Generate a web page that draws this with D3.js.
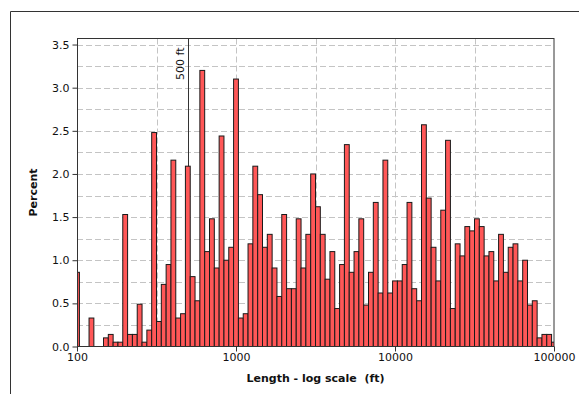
<!DOCTYPE html>
<html>
<head>
<meta charset="utf-8">
<script src="https://cdn.jsdelivr.net/npm/d3@7"></script>
<style>
  html, body { margin: 0; padding: 0; background: #fff; }
  svg { display: block; }
  text { font-family: "DejaVu Sans", Verdana, sans-serif; fill: #111; }
</style>
</head>
<body>
<svg id="chart" width="581" height="394"></svg>
<script>
// Histogram of lengths, binned evenly in log10(length) from 10^2 to 10^5.
// 100 bins; bin k is centred on 10^(2 + k * 3/99).
const percent = [
  0.86, 0, 0, 0.33, 0, 0, 0.10, 0.14, 0.05, 0.05,
  1.53, 0.14, 0.14, 0.49, 0.05, 0.19, 2.48, 0.29, 0.72, 0.95,
  2.16, 0.33, 0.38, 2.09, 0.81, 0.53, 3.20, 1.10, 1.48, 0.91,
  2.44, 1.00, 1.15, 3.10, 0.33, 0.38, 1.19, 2.09, 1.76, 1.15,
  1.30, 0.91, 0.58, 1.53, 0.67, 0.67, 1.48, 0.91, 1.30, 2.00,
  1.62, 1.30, 0.78, 1.10, 0.44, 0.95, 2.34, 0.86, 1.10, 1.48,
  0.48, 0.86, 1.67, 0.62, 2.16, 0.62, 0.76, 0.76, 0.95, 1.67,
  0.67, 0.53, 2.57, 1.72, 1.15, 0.76, 1.58, 2.39, 0.44, 1.19,
  1.05, 1.39, 1.34, 1.48, 1.39, 1.05, 1.10, 0.76, 1.30, 0.86,
  1.15, 1.19, 0.76, 1.00, 0.48, 0.53, 0.10, 0.14, 0.14, 0.05
];
const logFirstCenter = 2;
const logLastCenter = 5;

const xTicks = [100, 1000, 10000, 100000];
const xTickLabels = ["100", "1000", "10000", "100000"];
const xGrid = [316.23, 1000, 3162.3, 10000, 31623];
const yTicks = [0, 0.5, 1, 1.5, 2, 2.5, 3, 3.5];
const yTickLabels = ["0.0", "0.5", "1.0", "1.5", "2.0", "2.5", "3.0", "3.5"];
const yGrid = [0.25, 0.5, 0.75, 1, 1.25, 1.5, 1.75, 2, 2.25, 2.5, 2.75, 3, 3.25, 3.5];
const yMax = 3.57;
const refLine = { value: 500, label: "500 ft" };
const xTitle = "Length - log scale  (ft)";
const yTitle = "Percent";

const plot = { left: 77, right: 554, top: 38.5, bottom: 346.5 };

const svg = d3.select("#chart");

// outer frame
svg.append("path")
  .attr("d", "M10.5,394 V11.5 H579")
  .attr("fill", "none").attr("stroke", "#333").attr("stroke-width", 1);

const x = d3.scaleLog().domain([100, 100000]).range([plot.left, plot.right]);
const y = d3.scaleLinear().domain([0, yMax]).range([plot.bottom, plot.top]);

const step = (logLastCenter - logFirstCenter) / (percent.length - 1);
const bins = percent.map((v, k) => ({
  x0: Math.pow(10, logFirstCenter + (k - 0.5) * step),
  x1: Math.pow(10, logFirstCenter + (k + 0.5) * step),
  value: v
}));

svg.append("defs").append("clipPath").attr("id", "plotClip")
  .append("rect")
  .attr("x", plot.left).attr("y", plot.top - 1)
  .attr("width", plot.right - plot.left).attr("height", plot.bottom - plot.top + 2);

// grid
const grid = svg.append("g").attr("stroke", "#c4c4c4").attr("stroke-width", 1)
  .attr("stroke-dasharray", "6,3");
grid.selectAll("line.h").data(yGrid).join("line")
  .attr("class", "h")
  .attr("x1", plot.left).attr("x2", plot.right)
  .attr("y1", d => Math.round(y(d)) + 0.5).attr("y2", d => Math.round(y(d)) + 0.5);
grid.selectAll("line.v").data(xGrid).join("line")
  .attr("class", "v")
  .attr("y1", plot.top).attr("y2", plot.bottom)
  .attr("x1", d => Math.round(x(d)) + 0.5).attr("x2", d => Math.round(x(d)) + 0.5);

// reference line
const rx = Math.round(x(refLine.value)) + 0.5;
svg.append("line")
  .attr("x1", rx).attr("x2", rx).attr("y1", plot.top).attr("y2", plot.bottom)
  .attr("stroke", "#333").attr("stroke-width", 1);
svg.append("text")
  .attr("transform", `translate(${rx - 5},${plot.top + 9}) rotate(-90)`)
  .attr("text-anchor", "end")
  .attr("font-size", 11)
  .text(refLine.label);

// bars
svg.append("g").attr("clip-path", "url(#plotClip)")
  .selectAll("rect").data(bins).join("rect")
  .attr("x", d => x(d.x0))
  .attr("width", d => x(d.x1) - x(d.x0))
  .attr("y", d => y(d.value))
  .attr("height", d => y(0) - y(d.value))
  .attr("fill", "#ff5757")
  .attr("stroke", "#1a1a1a")
  .attr("stroke-width", 1);

// plot border
svg.append("rect")
  .attr("x", plot.left + 0.5).attr("y", plot.top)
  .attr("width", plot.right - plot.left - 0.5).attr("height", plot.bottom - plot.top)
  .attr("fill", "none").attr("stroke", "#333").attr("stroke-width", 1);

// axes
const yAxis = d3.axisLeft(y).tickValues(yTicks).tickSize(5).tickPadding(3)
  .tickFormat((d, i) => yTickLabels[i]);
const gy = svg.append("g").attr("transform", `translate(${plot.left + 0.5},0)`).call(yAxis);
gy.select(".domain").remove();
gy.selectAll("line").attr("stroke", "#333");
gy.selectAll("text").attr("font-size", 11).attr("font-family", "DejaVu Sans, Verdana, sans-serif").attr("fill", "#111");

const xAxis = d3.axisBottom(x).tickValues(xTicks).tickSize(5).tickPadding(2)
  .tickFormat((d, i) => xTickLabels[i]);
const gx = svg.append("g").attr("transform", `translate(0,${plot.bottom})`).call(xAxis);
gx.select(".domain").remove();
gx.selectAll("line").attr("stroke", "#333");
gx.selectAll("text").attr("font-size", 11).attr("font-family", "DejaVu Sans, Verdana, sans-serif").attr("fill", "#111");

// axis titles
svg.append("text")
  .attr("x", (plot.left + plot.right) / 2).attr("y", 382)
  .attr("text-anchor", "middle").attr("font-size", 11).attr("font-weight", "bold")
  .style("white-space", "pre")
  .text(xTitle);
svg.append("text")
  .attr("transform", `translate(37,${(plot.top + plot.bottom) / 2}) rotate(-90)`)
  .attr("text-anchor", "middle").attr("font-size", 11).attr("font-weight", "bold")
  .text(yTitle);
</script>
</body>
</html>
